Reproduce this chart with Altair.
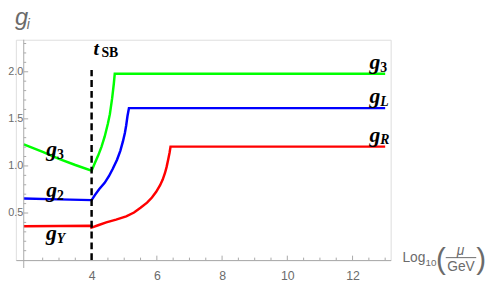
import altair as alt
import pandas as pd

# ---- data ----
green_x = [1.92, 2.5, 3.0, 3.5, 4.0, 4.1, 4.2, 4.3, 4.4, 4.5, 4.56, 4.63, 4.68, 4.71, 13.0]
green_y = [1.23, 1.15, 1.075, 1.01, 0.95, 1.03, 1.11, 1.20, 1.31, 1.45, 1.55, 1.72, 1.87, 1.98, 1.98]

blue_x = [1.92, 3.0, 4.0, 4.1, 4.23, 4.4, 4.53, 4.65, 4.78, 4.88, 4.96, 5.02, 5.06, 5.1, 5.145, 13.0]
blue_y = [0.655, 0.645, 0.637, 0.69, 0.752, 0.82, 0.891, 0.97, 1.066, 1.16, 1.26, 1.35, 1.43, 1.53, 1.614, 1.614]

red_x = [1.92, 3.0, 3.999, 4.0, 4.2, 4.45, 4.75, 5.06, 5.3, 5.5, 5.7, 5.85, 5.98, 6.1, 6.18,
         6.25, 6.3, 6.35, 6.39, 6.42, 13.0]
red_y = [0.36, 0.362, 0.365, 0.345, 0.37, 0.40, 0.43, 0.465, 0.505, 0.555, 0.61, 0.665, 0.725,
         0.795, 0.855, 0.925, 0.99, 1.07, 1.14, 1.205, 1.205]

series_names = ["g3", "g2", "gY"]
series_colors = ["#00ff00", "#0000ff", "#ff0000"]

x_major = [4, 6, 8, 10, 12]
x_minor = [2.5, 3, 3.5, 4.5, 5, 5.5, 6.5, 7, 7.5, 8.5, 9, 9.5, 10.5, 11, 11.5, 12.5, 13]
y_major = [0.5, 1.0, 1.5, 2.0]
y_minor = [0.1, 0.2, 0.3, 0.4, 0.6, 0.7, 0.8, 0.9, 1.1, 1.2, 1.3, 1.4,
           1.6, 1.7, 1.8, 1.9, 2.1, 2.2, 2.3]

t_sb = 4.0
t_sb_top = 2.02

# curve labels (g + subscript)
lab_main = ["g", "g", "g", "g", "g", "g"]
lab_sub = ["3", "2", "Y", "3", "L", "R"]
lab_sub_italic = [False, False, True, False, True, True]
lab_x = [2.61, 2.61, 2.60, 12.52, 12.52, 12.52]
lab_y = [1.107, 0.665, 0.209, 2.027, 1.671, 1.259]

# ---- frames ----
rows = []
for name, xs_, ys_ in zip(series_names, [green_x, blue_x, red_x], [green_y, blue_y, red_y]):
    for i, (a, b) in enumerate(zip(xs_, ys_)):
        rows.append({"series": name, "x": a, "y": b, "i": i})
curves = pd.DataFrame(rows)

labels = pd.DataFrame({"g": lab_main, "s": lab_sub, "it": lab_sub_italic, "x": lab_x, "y": lab_y})
one = pd.DataFrame({"a": [0]})

W, H = 381, 224
XS = alt.Scale(domain=[1.678, 13.168], nice=False, zero=False)
YS = alt.Scale(domain=[0, 2.34], nice=False, zero=False)
AX = "#a8a8a8"
LAB = "#6b6b6b"

xaxis = alt.Axis(values=x_major, ticks=False, grid=False, title=None, domainColor=AX,
                 domainWidth=1, labelColor=LAB, labelFont="Liberation Sans", labelFontSize=12.5,
                 labelPadding=10, labelFlush=False)
yaxis = alt.Axis(values=y_major, format=".1f", ticks=False, grid=False, title=None, domain=False,
                 offset=-8, labelColor=LAB, labelFont="Liberation Sans", labelFontSize=11,
                 labelPadding=1)


def X(field="x"):
    return alt.X(f"{field}:Q", scale=XS, axis=xaxis)


def Y(field="y"):
    return alt.Y(f"{field}:Q", scale=YS, axis=yaxis)


lines = alt.Chart(curves).mark_line(strokeWidth=2.5).encode(
    x=X(), y=Y(),
    color=alt.Color("series:N", scale=alt.Scale(domain=series_names, range=series_colors), legend=None),
    detail="series:N",
    order="i:Q",
)

dash = alt.Chart(pd.DataFrame({"x": [t_sb], "y": [0.0], "y2": [t_sb_top]})).mark_rule(
    strokeDash=[7, 4], strokeWidth=2.5, color="black").encode(x=X(), y=Y(), y2="y2:Q")

xmaj = alt.Chart(pd.DataFrame({"x": x_major})).mark_rule(color=AX, strokeWidth=1).encode(
    x=X(), y=alt.value(H), y2=alt.value(H - 4.5))
xmin = alt.Chart(pd.DataFrame({"x": x_minor})).mark_rule(color=AX, strokeWidth=1).encode(
    x=X(), y=alt.value(H), y2=alt.value(H - 2.5))
ymaj = alt.Chart(pd.DataFrame({"y": y_major})).mark_rule(color=AX, strokeWidth=1).encode(
    y=Y(), x=alt.value(8), x2=alt.value(12.5))
ymin = alt.Chart(pd.DataFrame({"y": y_minor})).mark_rule(color=AX, strokeWidth=1).encode(
    y=Y(), x=alt.value(8), x2=alt.value(10.5))
yline = alt.Chart(one).mark_rule(color=AX, strokeWidth=1).encode(
    x=alt.value(8), y=alt.value(0), y2=alt.value(H + 8))

serif = "Liberation Serif"
g_txt = alt.Chart(labels).mark_text(align="left", baseline="alphabetic", font=serif, fontWeight="bold",
                                   fontStyle="italic", fontSize=22, color="black").encode(
    x=X(), y=Y(), text="g:N")
sub_up = alt.Chart(labels[~labels["it"]]).mark_text(align="left", baseline="alphabetic", font=serif,
                                                   fontWeight="bold", fontSize=14, dx=11, dy=3,
                                                   color="black").encode(
    x=X(), y=Y(), text="s:N")
sub_it = alt.Chart(labels[labels["it"]]).mark_text(align="left", baseline="alphabetic", font=serif,
                                                  fontWeight="bold", fontStyle="italic", fontSize=14,
                                                  dx=11, dy=3, color="black").encode(
    x=X(), y=Y(), text="s:N")

tsb = pd.DataFrame({"x": [t_sb + 0.06], "y": [2.173]})
t_t = alt.Chart(tsb).mark_text(text="t", align="left", baseline="alphabetic", font=serif,
                               fontWeight="bold", fontStyle="italic", fontSize=20, color="black").encode(
    x=X(), y=Y())
t_s = alt.Chart(tsb).mark_text(text="SB", align="left", baseline="alphabetic", font=serif,
                               fontWeight="bold", fontSize=14, dx=8, dy=2, color="black").encode(
    x=X(), y=Y())


def ann(text, x, y, size, style="normal", align="left", font="Liberation Sans"):
    return alt.Chart(one).mark_text(text=text, align=align, baseline="alphabetic", font=font,
                                    fontSize=size, fontStyle=style, color=LAB).encode(
        x=alt.value(x), y=alt.value(y))


gi_g = ann("g", -1, -15.5, 24, "italic")
gi_i = ann("i", 11, -10.5, 14, "italic")

t_log = ann("Log", 393, 225.5, 14)
t_10 = ann("10", 416.5, 230, 10)
t_lp = ann("(", 427, 233, 30)
t_mu = ann("\u03bc", 452, 218.5, 14, "italic", "center")
t_frac = alt.Chart(one).mark_rule(color=LAB, strokeWidth=1).encode(
    x=alt.value(437), x2=alt.value(468), y=alt.value(221.5))
t_gev = ann("GeV", 452.5, 235.5, 14, "normal", "center")
t_rp = ann(")", 468, 233, 30)

chart = alt.layer(
    lines, yline, xmaj, xmin, ymaj, ymin, dash, g_txt, sub_up, sub_it, t_t, t_s,
    gi_g, gi_i, t_log, t_10, t_lp, t_mu, t_frac, t_gev, t_rp,
).properties(
    width=W, height=H, autosize="none",
    padding={"left": 8, "top": 30, "right": 101, "bottom": 21},
).configure_view(stroke=None).configure(background="white")

chart.save("out.html", embed_options={"renderer": "svg", "actions": False})
